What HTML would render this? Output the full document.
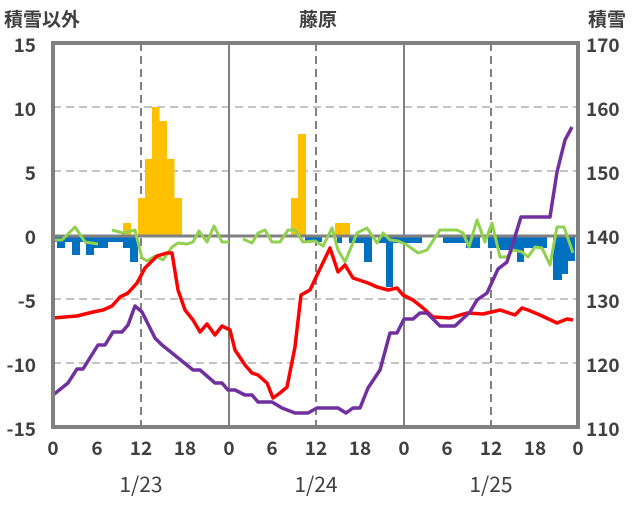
<!DOCTYPE html>
<html><head><meta charset="utf-8"><style>
body{margin:0;background:#fff}
svg text{font-family:"Noto Sans CJK JP","Liberation Sans",sans-serif;font-size:19px;font-weight:bold;fill:#404040}
svg text.d{font-weight:normal;font-size:21px}
</style></head><body>
<svg width="636" height="501" viewBox="0 0 636 501" xmlns="http://www.w3.org/2000/svg">
<g stroke="#b0b0b0" stroke-width="1.5" stroke-dasharray="8,5">
<line x1="53" y1="107" x2="578" y2="107"/><line x1="53" y1="171" x2="578" y2="171"/>
<line x1="53" y1="299" x2="578" y2="299"/><line x1="53" y1="363" x2="578" y2="363"/>
</g>
<g stroke="#808080" stroke-width="2" stroke-dasharray="8,5">
<line x1="141" y1="43" x2="141" y2="427"/><line x1="316" y1="43" x2="316" y2="427"/><line x1="491" y1="43" x2="491" y2="427"/>
</g>
<g stroke="#808080" stroke-width="2"><line x1="229" y1="43" x2="229" y2="427"/><line x1="404" y1="43" x2="404" y2="427"/></g>
<g fill="#ffc000">
<rect x="123" y="223" width="8" height="13"/><rect x="138" y="198" width="7.5" height="38"/><rect x="145" y="159" width="7.5" height="77"/>
<rect x="152" y="107" width="7.5" height="129"/><rect x="159" y="121" width="8" height="115"/><rect x="167" y="159" width="7.5" height="77"/>
<rect x="174" y="198" width="8" height="38"/><rect x="291" y="198" width="7.5" height="38"/><rect x="298" y="134" width="8" height="102"/>
<rect x="335" y="223" width="15" height="13"/>
</g>
<g fill="#0070c0">
<rect x="53" y="235" width="4" height="7"/><rect x="57" y="235" width="8" height="13"/><rect x="65" y="235" width="7" height="7"/><rect x="72" y="235" width="8" height="20"/>
<rect x="80" y="235" width="6" height="7"/><rect x="86" y="235" width="8" height="20"/><rect x="94" y="235" width="14" height="13"/>
<rect x="108" y="235" width="15" height="7"/><rect x="123" y="235" width="7" height="13"/><rect x="130" y="235" width="8" height="27"/>
<rect x="305" y="235" width="17" height="7"/><rect x="337" y="235" width="5" height="8"/><rect x="349" y="235" width="15" height="8"/>
<rect x="364" y="235" width="8" height="27"/><rect x="378" y="235" width="8" height="8"/><rect x="386" y="235" width="7" height="52"/>
<rect x="393" y="235" width="29" height="8"/><rect x="443" y="235" width="23" height="8"/><rect x="466" y="235" width="14" height="13"/>
<rect x="488" y="235" width="12" height="13"/><rect x="500" y="235" width="17" height="15"/><rect x="517" y="235" width="7" height="27"/>
<rect x="524" y="235" width="23" height="13"/><rect x="553" y="235" width="9" height="45"/><rect x="562" y="235" width="6" height="39"/><rect x="568" y="235" width="7" height="26"/>
</g>
<line x1="53" y1="236" x2="578" y2="236" stroke="#808080" stroke-width="3"/>
<g fill="none" stroke-width="3" stroke-linejoin="round">
<polyline stroke="#92d050" points="53,240 62,240 75,227 85,242 98,244"/>
<polyline stroke="#92d050" points="112,230 123,233 135,230 142,258 147,261 155,256 163,260 172,247 178,243 187,244 193,242 199,231 207,242 214,226 222,242 229,242"/>
<polyline stroke="#92d050" points="243,239 252,243 258,233 265,230 272,242 280,242 288,230 295,230 303,242 315,241 323,246 332,228 338,250 345,262 357,233 367,228 377,243 383,233 390,240 398,241 407,245 418,253 427,250 440,230 457,230 463,233 469,247 477,220 485,242 492,223 500,257 507,257 513,250 522,252 528,257 535,247 542,248 550,265 557,227 564,227 573,253"/>
<polyline stroke="#ff0000" stroke-width="3.5" points="53,318 77,316 93,312 103,310 112,306 120,297 128,293 137,283 145,268 157,256 167,253 172,253 178,290 185,310 193,320 200,332 207,324 215,335 222,326 230,330 235,350 245,365 252,373 258,375 267,383 273,398 280,393 287,387 295,347 301,295 310,290 318,273 330,248 338,272 345,265 353,278 368,283 377,287 388,290 397,288 403,295 413,300 423,308 433,317 450,318 467,313 483,314 500,310 515,315 522,308 528,310 540,315 557,323 567,319 573,320"/>
<polyline stroke="#7030a0" stroke-width="3.5" points="53,395 68,383 77,369 83,369 98,345 105,345 113,332 122,332 128,325 135,306 142,312 155,338 162,345 172,353 193,370 200,370 215,383 222,383 228,390 235,390 245,395 252,395 258,402 272,402 282,408 295,413 308,413 317,408 338,408 346,413 353,408 360,408 368,388 380,370 390,333 397,333 404,319 413,319 420,313 427,313 440,326 455,326 470,312 477,300 487,293 498,269 507,262 513,243 521,217 550,217 557,172 565,140 572,127"/>
</g>
<rect x="53" y="43" width="525" height="384" fill="none" stroke="#808080" stroke-width="4"/>
<g text-anchor="end">
<text x="36" y="52">15</text><text x="36" y="116">10</text><text x="36" y="180">5</text><text x="36" y="244">0</text>
<text x="36" y="308">-5</text><text x="36" y="372">-10</text><text x="36" y="436">-15</text>
</g>
<g text-anchor="start">
<text x="586" y="52">170</text><text x="586" y="116">160</text><text x="586" y="180">150</text><text x="586" y="244">140</text>
<text x="586" y="308">130</text><text x="586" y="372">120</text><text x="586" y="436">110</text>
</g>
<g text-anchor="middle">
<text x="53" y="455">0</text><text x="97" y="455">6</text><text x="141" y="455">12</text><text x="185" y="455">18</text>
<text x="229" y="455">0</text><text x="272" y="455">6</text><text x="316" y="455">12</text><text x="360" y="455">18</text>
<text x="404" y="455">0</text><text x="447" y="455">6</text><text x="491" y="455">12</text><text x="535" y="455">18</text><text x="578" y="455">0</text>
<text class="d" x="141" y="492">1/23</text><text class="d" x="316" y="492">1/24</text><text class="d" x="491" y="492">1/25</text>
<text x="318" y="26">藤原</text>
</g>
<text x="4" y="26">積雪以外</text>
<text x="588" y="26">積雪</text>
</svg>
</body></html>
